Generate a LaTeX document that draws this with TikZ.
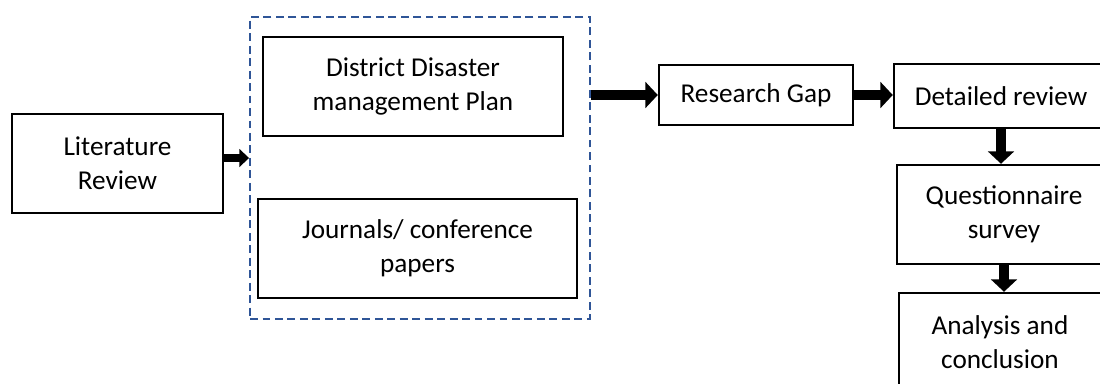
\documentclass[tikz,border=0pt]{standalone}
\usepackage{fontspec}
\setmainfont{Carlito}
\usetikzlibrary{arrows.meta}
\definecolor{frameblue}{RGB}{47,85,151}

\begin{document}
\begin{tikzpicture}[x=0.02cm, y=-0.02cm,
    box/.style={draw, line width=1.4pt, align=center, inner sep=0pt,
        font=\fontsize{15.5}{19.5}\selectfont},
    fatarrow/.style={line width=5.8pt, -{Triangle[length=7pt,width=14.5pt]}}]
    \useasboundingbox (0,0) rectangle (1100,383);

    % Literature sources
    \node[box, minimum width=4.22cm, minimum height=1.98cm] (lit) at (117.5,163.5) {Literature\\Review};
    \node[draw=frameblue, line width=1.1pt, dash pattern=on 4.5pt off 2.6pt,
        minimum width=6.8cm, minimum height=6.04cm] (frame) at (420,168) {};
    \node[box, minimum width=6cm, minimum height=1.98cm] (ddmp) at (413,86.5) {District Disaster\\management Plan};
    \node[box, minimum width=6.38cm, minimum height=1.98cm] (jour) at (417.5,248.5) {Journals/ conference\\papers};

    % Research steps
    \node[box, minimum width=3.88cm, minimum height=1.2cm] (gap) at (756,95) {Research Gap};
    \node[box, minimum width=4.28cm, minimum height=1.28cm] (det) at (1001,96) {Detailed review};
    \node[box, minimum width=4.28cm, minimum height=1.98cm] (ques) at (1004,214.5) {Questionnaire\\survey};
    \node[box, minimum width=4.04cm, minimum height=1.98cm] (ana) at (1000,342.5) {Analysis and\\conclusion};

    % Block arrows
    \draw[fatarrow, line width=4.6pt, -{Triangle[length=5.5pt,width=10pt]}]
        ([yshift=0.11cm]lit.east) -- ([yshift=0.11cm]lit.east -| frame.west);
    \draw[fatarrow] (frame.east |- gap.west) -- (gap.west);
    \draw[fatarrow] (gap.east) -- (gap.east -| det.west);
    \draw[fatarrow] (det.south) -- (det.south |- ques.north);
    \draw[fatarrow] (ques.south) -- (ques.south |- ana.north);
\end{tikzpicture}
\end{document}
